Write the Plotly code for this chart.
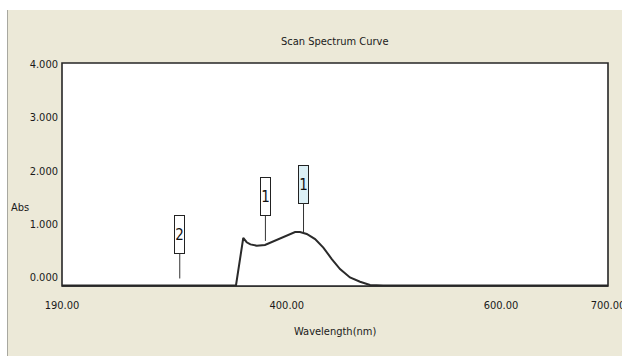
import plotly.graph_objects as go

# Scan spectrum: wavelength (nm) vs absorbance
wavelength = [190, 300, 352.5, 359.3, 362.5, 366, 371.9, 379.6, 389, 398.3, 407.7,
              412.3, 418.6, 426.4, 434.1, 442, 449.7, 459, 468.4, 477.7, 490, 700]
absorbance = [-0.15, -0.15, -0.15, 0.74, 0.66, 0.62, 0.595, 0.61, 0.69, 0.78, 0.85,
              0.85, 0.815, 0.72, 0.56, 0.345, 0.156, 0.0, -0.08, -0.14, -0.15, -0.15]

# Picked points: label, wavelength, absorbance, box fill
pick_labels = ["2", "1", "1"]
pick_wavelength = [300, 380, 415.6]
pick_abs = [-0.15, 0.61, 0.83]
pick_fill = ["#ffffff", "#ffffff", "#dcf0f6"]

x_ticks = [190, 400, 600, 700]
y_ticks = [0, 1, 2, 3, 4]

W, H = 622, 356
FONT = "DejaVu Sans Condensed, Liberation Sans Narrow, Arial Narrow, sans-serif"
BEIGE = "#ece9d8"

fig = go.Figure()
fig.add_trace(go.Scatter(
    x=wavelength, y=absorbance, mode="lines",
    line=dict(color="#2a2a2a", width=2), hoverinfo="skip", showlegend=False,
))

# plot box placement in page pixels
left, right, top, bottom = 62, 608, 63, 286

fig.update_layout(
    width=W, height=H,
    margin=dict(l=0, r=0, t=0, b=0, autoexpand=False),
    paper_bgcolor=BEIGE, plot_bgcolor="#ffffff",
    font=dict(family=FONT, size=11, color="#1a1a1a"),
    showlegend=False,
    xaxis=dict(
        domain=[left / W, right / W], range=[190, 700], automargin=False,
        tickvals=x_ticks, tickformat=".2f", ticks="", showgrid=False, zeroline=False,
        showline=True, linecolor="#555555", linewidth=1, mirror=False,
        ticklabelstandoff=9, ticklabeloverflow="allow",
        tickfont=dict(family=FONT, size=11, color="#1a1a1a"),
    ),
    yaxis=dict(
        domain=[1 - bottom / H, 1 - top / H], range=[-0.16, 4.02], automargin=False,
        tickvals=y_ticks, tickformat=".3f", ticks="", showgrid=False, zeroline=False,
        showline=False, ticklabelstandoff=3, ticklabeloverflow="allow",
        tickfont=dict(family=FONT, size=11, color="#1a1a1a"),
    ),
)

shapes = [
    # white strips around the window panel
    dict(type="rect", xref="paper", yref="paper", x0=0, x1=1, y0=1 - 10 / H, y1=1,
         fillcolor="#ffffff", line=dict(width=0), layer="below"),
    dict(type="rect", xref="paper", yref="paper", x0=0, x1=7 / W, y0=0, y1=1,
         fillcolor="#ffffff", line=dict(width=0), layer="below"),
    dict(type="line", xref="paper", yref="paper", x0=7.5 / W, x1=7.5 / W, y0=0, y1=1 - 10 / H,
         line=dict(color="#a8a8a0", width=1)),
    # plot frame
    dict(type="rect", xref="x domain", yref="y domain", x0=0, x1=1, y0=0, y1=1,
         line=dict(color="#262626", width=1.6), layer="above"),
]
fig.update_layout(shapes=shapes)

annotations = [
    dict(text="Scan Spectrum Curve", xref="paper", yref="paper",
         x=(left + right) / 2 / W, y=1 - 42 / H, showarrow=False,
         font=dict(family=FONT, size=11), xanchor="center", yanchor="middle"),
    dict(text="Abs", xref="paper", yref="paper", x=20 / W, y=1 - 207 / H,
         showarrow=False, font=dict(family=FONT, size=11),
         xanchor="center", yanchor="middle"),
    dict(text="Wavelength(nm)", xref="paper", yref="paper",
         x=(left + right) / 2 / W, y=1 - 331 / H, showarrow=False,
         font=dict(family=FONT, size=11), xanchor="center", yanchor="middle"),
]
stand = [7, 4, 1]
offs = [-51, -48, -49]
for lab, wl, ab, fill, so, oy in zip(pick_labels, pick_wavelength, pick_abs, pick_fill, stand, offs):
    annotations.append(dict(
        text=lab, x=wl, y=ab, xref="x", yref="y",
        showarrow=True, arrowhead=0, arrowwidth=1, arrowcolor="#333333",
        ax=0, ay=oy, standoff=so,
        width=7, height=35, borderpad=1, borderwidth=1, bordercolor="#222222",
        bgcolor=fill, font=dict(family=FONT, size=15, color="#111111"),
        align="center", valign="middle",
    ))
fig.update_layout(annotations=annotations)

fig.write_html("out.html")
